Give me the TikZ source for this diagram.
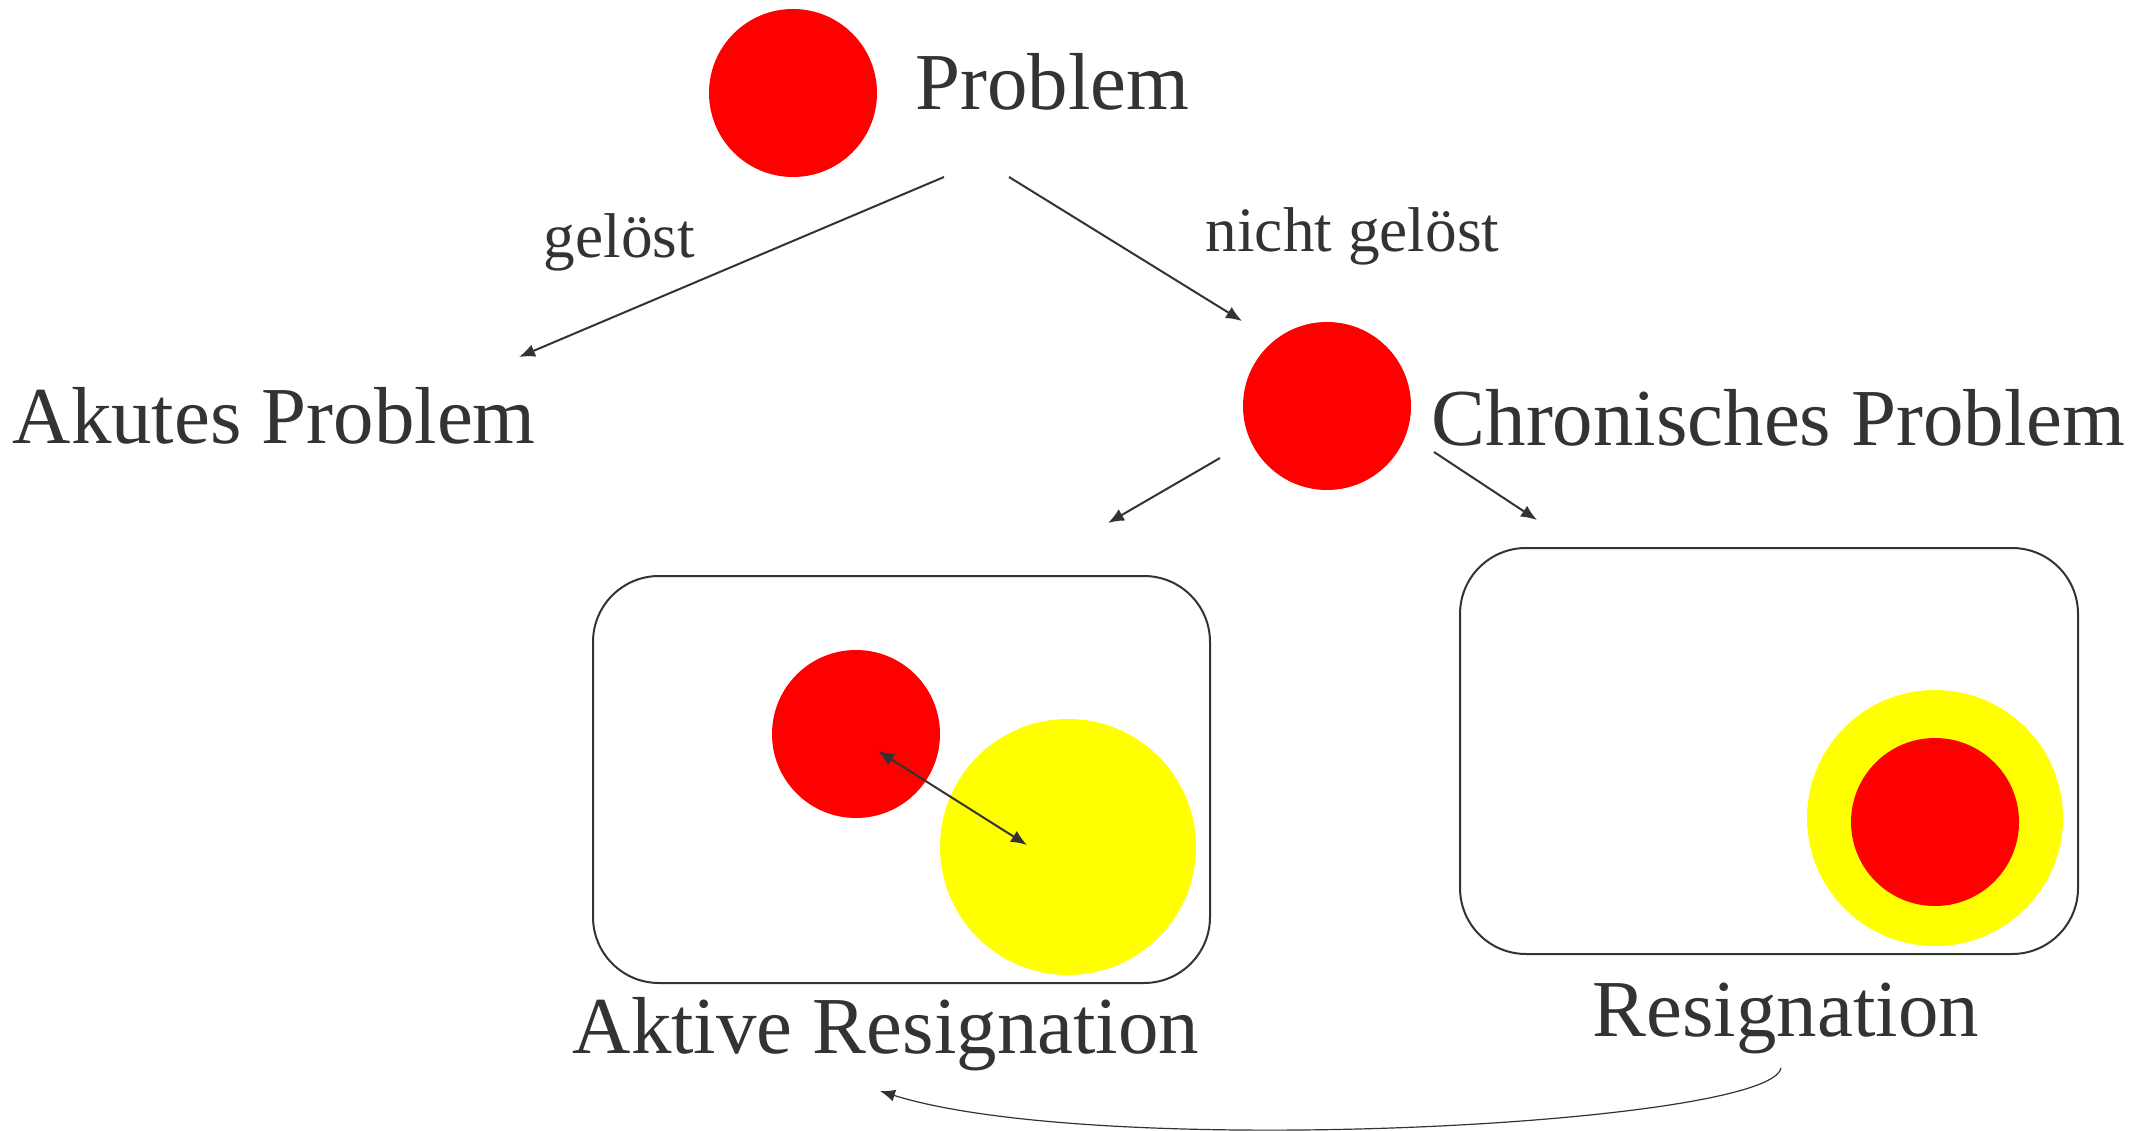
\documentclass[tikz,border=0pt]{standalone}
\usepackage{fontspec}
\setmainfont{Liberation Serif}
\usetikzlibrary{arrows.meta}
\definecolor{ink}{HTML}{333333}
\definecolor{redc}{HTML}{FF0000}
\definecolor{yelc}{HTML}{FFFF00}
\begin{document}
\begin{tikzpicture}[x=0.1mm,y=-0.1mm,
  big/.style={text=ink,font=\fontsize{23}{27}\selectfont,inner sep=0pt,anchor=base west},
  small/.style={text=ink,font=\fontsize{18}{22}\selectfont,inner sep=0pt,anchor=base west},
  redball/.style={circle,fill=redc,minimum size=16.8mm,inner sep=0pt},
  yelball/.style={circle,fill=yelc,minimum size=25.6mm,inner sep=0pt},
  frame/.style={draw=ink,line width=0.2mm,rounded corners=6.6mm,inner sep=0pt},
  conn/.style={draw=ink,line width=0.2mm,-{Latex[length=1.6mm,width=1.3mm]}},
  dconn/.style={draw=ink,line width=0.2mm,{Latex[length=1.6mm,width=1.3mm]}-{Latex[length=1.6mm,width=1.3mm]}},
  thinconn/.style={draw=ink,line width=0.12mm,-{Latex[length=1.5mm,width=1.2mm]}}]
\useasboundingbox (0,0) rectangle (2152,1131);

% top
\node[redball] (p0) at (793,93) {};
\node[big] (tprob) at (915,110) {Problem};
\node[small] (tgel) at (543,258) {gelöst};
\node[small] (tngel) at (1205,252) {nicht gelöst};
\node[big] (takut) at (12,443) {Akutes Problem};
\node[redball] (p1) at (1327,406) {};
\node[big] (tchron) at (1431,445) {Chronisches Problem};

% boxes
\node[frame,minimum width=61.7mm,minimum height=40.7mm] (box1) at (901.5,779.5) {};
\node[frame,minimum width=61.8mm,minimum height=40.6mm] (box2) at (1769,751) {};

\node[yelball] (y1) at (1068,847) {};
\node[redball] (r1) at (856,734) {};
\node[yelball] (y2) at (1935,818) {};
\node[redball] (r2) at (1935,822) {};

\node[big] (takt) at (572,1053) {Aktive Resignation};
\node[big] (tres) at (1592,1036) {Resignation};

% connector end points
\coordinate (a1s) at (944,177);
\coordinate (a1e) at (519,357);
\coordinate (a2s) at (1009,177);
\coordinate (a2e) at (1242,321);
\coordinate (a3s) at (1220,458);
\coordinate (a3e) at (1108,523);
\coordinate (a4s) at (1434,452);
\coordinate (a4e) at (1537,520);
\coordinate (d1) at (878,751);
\coordinate (d2) at (1027,845);
\coordinate (cs) at (1781,1068);
\coordinate (ce) at (880,1091);

\draw[conn] (a1s) -- (a1e);
\draw[conn] (a2s) -- (a2e);
\draw[conn] (a3s) -- (a3e);
\draw[conn] (a4s) -- (a4e);
\draw[dconn] (d1) -- (d2);
\draw[thinconn] (cs) .. controls (1770,1125) and (1100,1160) .. (ce);
\end{tikzpicture}
\end{document}
